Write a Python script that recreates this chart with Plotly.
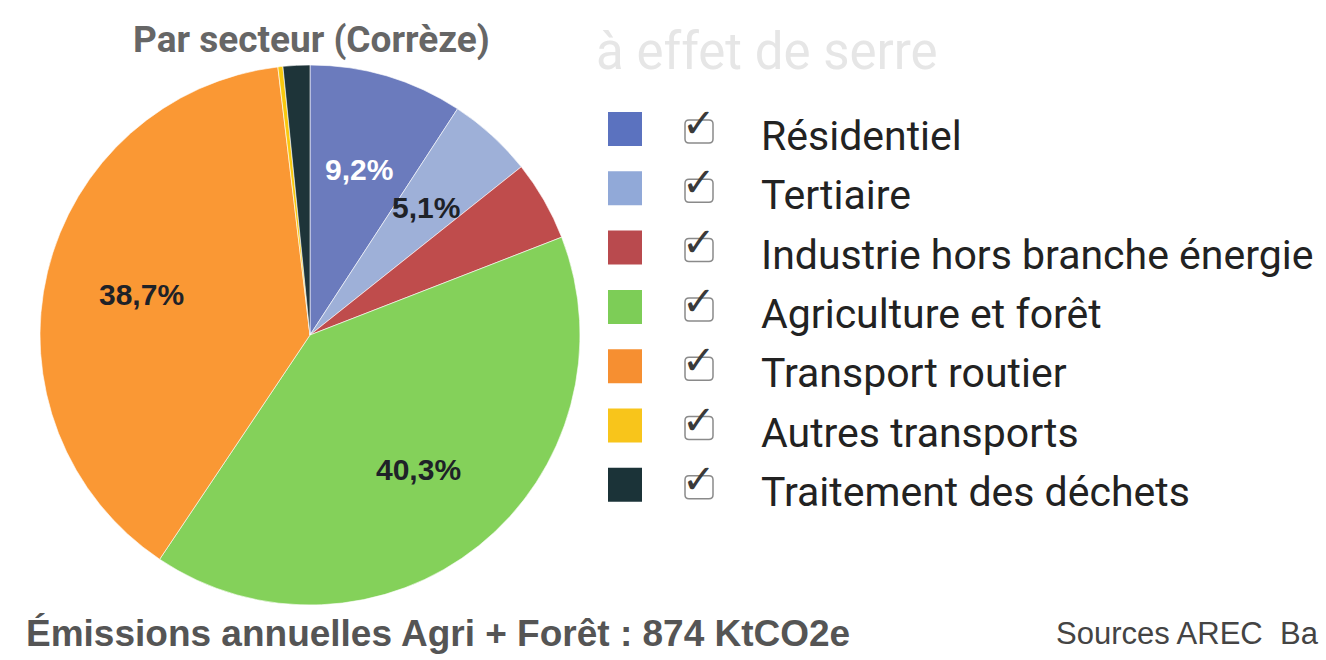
import math
import plotly.graph_objects as go

# ---- data ----
sectors = ["Résidentiel", "Tertiaire", "Industrie hors branche énergie",
           "Agriculture et forêt", "Transport routier", "Autres transports",
           "Traitement des déchets"]
shares = [9.2, 5.1, 4.8, 40.3, 38.7, 0.3, 1.6]
slice_colors = ["#6b7bbd", "#9eb0d8", "#bf4c4c", "#84d15a", "#fa9834", "#f9c80e", "#1e3439"]
legend_colors = ["#5b72bf", "#91a9d8", "#b94a4e", "#7dcd57", "#f68f31", "#f8c51b", "#1b3338"]
label_colors = ["#ffffff", "#1e2228", "#1e2228", "#1e2228", "#1e2228", "#1e2228", "#1e2228"]
label_min = 5.0

W, H = 1326, 660
cx_px, cy_px, R = 310, 335, 270


def px_x(v):
    return v / W


def px_y(v):
    return 1 - v / H


fig = go.Figure()
fig.add_trace(go.Pie(
    labels=sectors, values=shares, sort=False, direction="clockwise", rotation=0,
    marker=dict(colors=slice_colors, line=dict(color="#ffffff", width=0.6)),
    textinfo="none", hoverinfo="label+percent", showlegend=False,
    domain=dict(x=[px_x(cx_px - R), px_x(cx_px + R)], y=[px_y(cy_px + R), px_y(cy_px - R)]),
))

annotations = []
# slice labels placed at mid-angle of each slice
total = sum(shares)
cum = 0.0
for s, v, c in zip(sectors, shares, label_colors):
    mid = (cum + v / 2) / total * 2 * math.pi
    cum += v
    if v < label_min:
        continue
    r = 0.64 * R
    px = cx_px + r * math.sin(mid)
    py = cy_px - r * math.cos(mid)
    annotations.append(dict(
        x=px_x(px), y=px_y(py), xref="paper", yref="paper", showarrow=False,
        xanchor="center", yanchor="middle",
        text="<b>" + f"{v:.1f}".replace(".", ",") + "%</b>",
        font=dict(family="Liberation Sans, Arial", size=30, color=c),
    ))

# faint background text
annotations.append(dict(x=px_x(594), y=px_y(52), xref="paper", yref="paper", xanchor="left",
                        yanchor="middle", showarrow=False, text="à effet de serre",
                        font=dict(family="Roboto", size=51, color="#e6e6e6")))

# title
annotations.append(dict(x=px_x(311), y=px_y(40), xref="paper", yref="paper", showarrow=False,
                        xanchor="center", yanchor="middle",
                        text="<b>Par secteur (Corrèze)</b>",
                        font=dict(family="Roboto", size=37, color="#666666")))

# custom legend
shapes = []
row0, step = 129, 59.3
for i, (s, c) in enumerate(zip(sectors, legend_colors)):
    yc = row0 + i * step
    shapes.append(dict(type="rect", xref="paper", yref="paper",
                       x0=px_x(608), x1=px_x(642), y0=px_y(yc + 17), y1=px_y(yc - 17),
                       fillcolor=c, line=dict(width=0)))
    # checkbox outline (rounded)
    x0, x1, y0, y1, rr = 685, 713, yc - 9, yc + 14, 4
    path = (f"M {px_x(x0 + rr)} {px_y(y0)} L {px_x(x1 - rr)} {px_y(y0)} "
            f"Q {px_x(x1)} {px_y(y0)} {px_x(x1)} {px_y(y0 + rr)} "
            f"L {px_x(x1)} {px_y(y1 - rr)} Q {px_x(x1)} {px_y(y1)} {px_x(x1 - rr)} {px_y(y1)} "
            f"L {px_x(x0 + rr)} {px_y(y1)} Q {px_x(x0)} {px_y(y1)} {px_x(x0)} {px_y(y1 - rr)} "
            f"L {px_x(x0)} {px_y(y0 + rr)} Q {px_x(x0)} {px_y(y0)} {px_x(x0 + rr)} {px_y(y0)} Z")
    shapes.append(dict(type="path", xref="paper", yref="paper", path=path,
                       line=dict(color="#8a8a8a", width=1.5)))
    annotations.append(dict(x=px_x(699), y=px_y(yc - 6), xref="paper", yref="paper",
                            xanchor="center", yanchor="middle", showarrow=False, text="✓",
                            font=dict(family="DejaVu Sans", size=40, color="#3a3a3a")))
    annotations.append(dict(x=px_x(759), y=px_y(yc + 7), xref="paper", yref="paper",
                            xanchor="left", yanchor="middle", showarrow=False, text=s,
                            font=dict(family="Roboto", size=41, color="#222222")))

# footer
annotations.append(dict(x=px_x(24), y=px_y(633), xref="paper", yref="paper", xanchor="left",
                        yanchor="middle", showarrow=False,
                        text="<b>Émissions annuelles Agri + Forêt : 874 KtCO2e</b>",
                        font=dict(family="Liberation Sans, Arial", size=37, color="#555555")))
annotations.append(dict(x=px_x(1054), y=px_y(633), xref="paper", yref="paper", xanchor="left",
                        yanchor="middle", showarrow=False, text="Sources AREC  Ba",
                        font=dict(family="Liberation Sans, Arial", size=31, color="#444444")))

fig.update_layout(
    width=W, height=H, margin=dict(l=0, r=0, t=0, b=0),
    paper_bgcolor="#ffffff", plot_bgcolor="#ffffff",
    annotations=annotations, shapes=shapes,
)
fig.write_html("out.html", config={"displayModeBar": False},
               post_script="document.body.style.margin='0';document.body.style.overflow='hidden';")
